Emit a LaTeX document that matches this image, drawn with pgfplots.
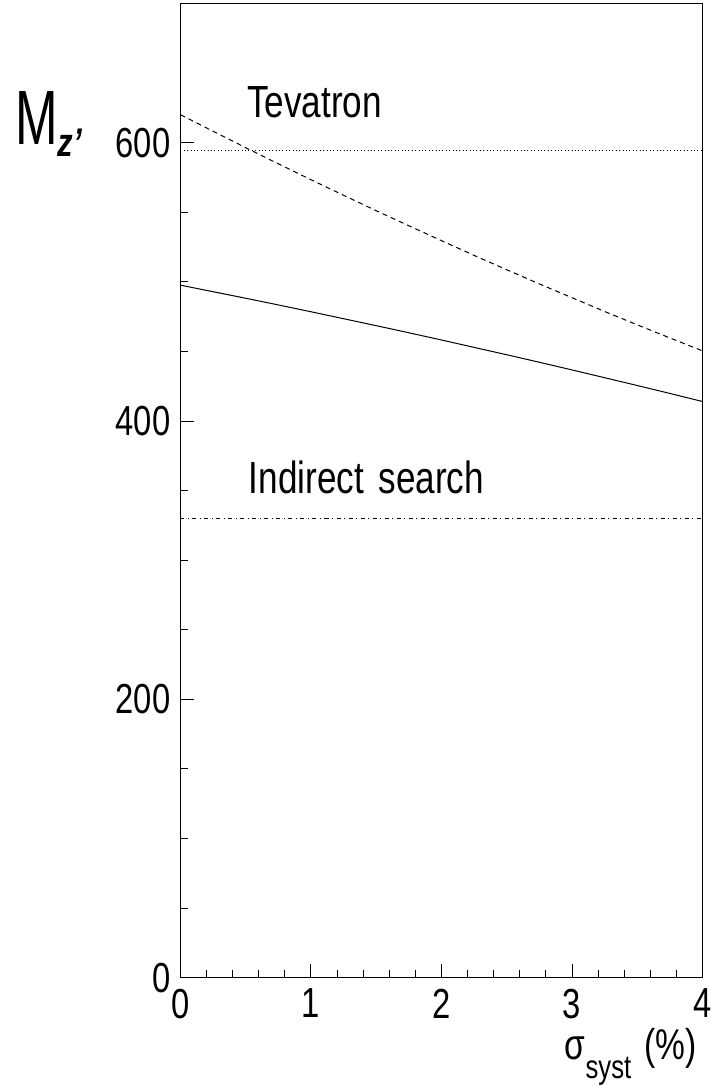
\documentclass[border=0pt]{standalone}
\usepackage{fontspec}
\setmainfont{Liberation Sans}[FakeStretch=0.78]
\usepackage{graphicx}
\usepackage{pgfplots}
\pgfplotsset{compat=1.18}

\begin{document}
\begin{tikzpicture}
\begin{axis}[
  scale only axis, width=522pt, height=974pt,
  at={(0,0)}, anchor=south west,
  xmin=0, xmax=4, ymin=0, ymax=700,
  xtick={0,1,2,3,4}, ytick={0,200,400,600},
  minor x tick num=4, minor y tick num=3,
  tick align=inside, tick pos=left,
  major tick length=14pt, minor tick length=7.5pt,
  axis line style={line width=1.4pt},
  every tick/.style={black, line width=1pt},
  /pgf/number format/assume math mode=true,
  tick label style={font=\fontsize{42}{42}\selectfont, inner sep=0pt},
  xticklabel style={anchor=north, yshift=-11pt},
  yticklabel style={anchor=east, xshift=-10pt},
  clip mode=individual,
  xlabel={σ\raisebox{-19pt}{\fontsize{33}{33}\selectfont syst}\hspace{4pt} (\%)},
  ylabel={\scalebox{0.85}[1]{\fontsize{77}{77}\selectfont M}\raisebox{-12pt}{\fontsize{40}{40}\selectfont\bfseries\itshape z'}},
  every axis x label/.style={at={(axis description cs:1,0)}, anchor=base east, xshift=-5.5pt, yshift=-82pt, inner sep=0pt, font=\fontsize{43}{43}\selectfont},
  every axis y label/.style={at={(axis description cs:0,1)}, anchor=base west, xshift=-165.5pt, yshift=-141.3pt, inner sep=0pt},
]
% dashed curve
\addplot[black, line width=1pt, dash pattern=on 5pt off 4pt] coordinates {
 (0,620.2) (0.25,608.3) (0.5,596.5) (0.75,584.9) (1,573.5) (1.25,562.3)
 (1.5,551.2) (1.75,540.4) (2,529.7) (2.25,519.1) (2.5,508.8) (2.75,498.6)
 (3,488.7) (3.25,478.8) (3.5,469.2) (3.75,459.8) (4,450.5)};
% solid curve
\addplot[black, line width=1pt] coordinates {
 (0,497.7) (0.25,493.0) (0.5,488.3) (0.75,483.5) (1,478.6) (1.25,473.6)
 (1.5,468.6) (1.75,463.5) (2,458.3) (2.25,453.0) (2.5,447.7) (2.75,442.3)
 (3,436.8) (3.25,431.2) (3.5,425.6) (3.75,419.9) (4,414.1)};
% Tevatron limit (dotted)
\addplot[black, line width=0.9pt, dash pattern=on 1pt off 2.4pt] coordinates {(0,594.5) (4,594.5)};
% Indirect search limit (dash-dot)
\addplot[black, line width=0.9pt, dash pattern=on 4pt off 3.5pt on 1pt off 3.5pt] coordinates {(0,330) (4,330)};
\node[anchor=base west, inner sep=0pt, font=\fontsize{45}{45}\selectfont] at (axis cs:0.509,618.5) {Tevatron};
\node[anchor=base west, inner sep=0pt, font=\fontsize{45}{45}\selectfont] at (axis cs:0.522,348.3) {Indirect\hspace{5pt} search};
\end{axis}
\pgfresetboundingbox
\useasboundingbox (-180.5pt,-108.3pt) rectangle (530.5pt,977.7pt);
\end{tikzpicture}
\end{document}
